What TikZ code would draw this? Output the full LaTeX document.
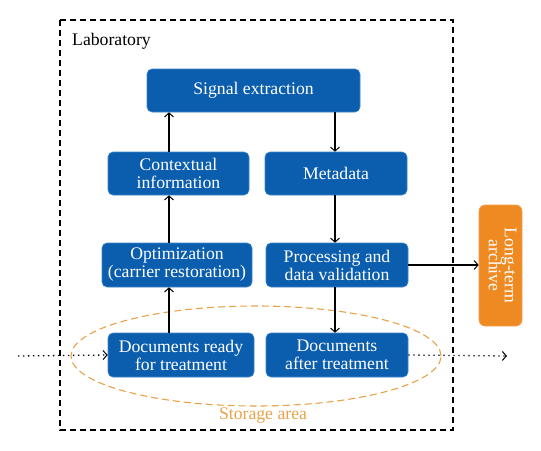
\documentclass[tikz,border=0pt]{standalone}
\usepackage{fontspec}
\setmainfont{Liberation Serif}
\usetikzlibrary{arrows.meta,shapes.geometric}
\definecolor{boxblue}{HTML}{0B5DAE}
\definecolor{boxedge}{HTML}{3A86C8}
\definecolor{archorange}{HTML}{EF8A22}
\definecolor{ellorange}{HTML}{E9A24A}
\begin{document}
\begin{tikzpicture}[x=1pt,y=-1pt,
  txt/.style={font=\fontsize{17.7}{18}\selectfont},
  bluebox/.style={draw=boxedge,line width=0.6pt,fill=boxblue,rounded corners=5pt,text=white,
    inner sep=0pt,align=center,txt},
  arr/.style={line width=1.1pt,-{Straight Barb[length=4pt,width=9pt,line width=1pt]}},
  dotarr/.style={line width=1.3pt,dash pattern=on 1.3pt off 3.7pt,-{Straight Barb[length=4pt,width=9pt,line width=1pt]}}]
\useasboundingbox (0,0) rectangle (541,450);
\fill[white] (0,0) rectangle (541,450);
% laboratory frame
\draw[line width=1.1pt,dash pattern=on 6pt off 4pt] (60,20) rectangle (453,430);
\node[anchor=west,txt,inner sep=0pt] (lab) at (72,41) {Laboratory};
% storage ellipse
\node[draw=ellorange,line width=1.1pt,dash pattern=on 7pt off 4pt,ellipse,minimum width=370pt,minimum height=100pt,inner sep=0pt] (ell) at (256,356) {};
\node[text=ellorange,txt,inner sep=0pt] (stor) at (263,416) {Storage area};
% boxes
\node[bluebox,minimum width=213pt,minimum height=43pt] (sig) at (253.5,90.5) {Signal extraction};
\node[bluebox,minimum width=141pt,minimum height=43pt] (ctx) at (178.5,173.5) {Contextual\\information};
\node[bluebox,minimum width=142pt,minimum height=43pt] (meta) at (336,173.5) {Metadata};
\node[bluebox,minimum width=150pt,minimum height=44pt] (opt) at (177,265) {Optimization\\(carrier restoration)};
\node[bluebox,minimum width=142pt,minimum height=44pt] (proc) at (337,265) {Processing and\\data validation};
\node[bluebox,minimum width=146pt,minimum height=44pt] (ready) at (181,355) {Documents ready\\for treatment};
\node[bluebox,minimum width=142pt,minimum height=44pt] (after) at (337,355) {Documents\\after treatment};
\node[draw=archorange!80!white,line width=0.6pt,fill=archorange,rounded corners=6pt,text=white,
  minimum width=43pt,minimum height=121pt,inner sep=0pt,txt] (arch) at (500.5,265.5)
  {\rotatebox{-90}{\fontsize{17.7}{18}\selectfont\begin{tabular}{@{}c@{}}Long-term\\[-2pt]archive\end{tabular}}};
% helper coordinates
\coordinate (xl) at (169,0);
\coordinate (xr) at (335,0);
\coordinate (din) at (18,356);
\coordinate (dout) at (507,356);
% arrows
\draw[arr] (ready.north -| xl) -- (opt.south -| xl);
\draw[arr] (opt.north -| xl) -- (ctx.south -| xl);
\draw[arr] (ctx.north -| xl) -- (sig.south -| xl);
\draw[arr] (sig.south -| xr) -- (meta.north -| xr);
\draw[arr] (meta.south -| xr) -- (proc.north -| xr);
\draw[arr] (proc.south -| xr) -- (after.north -| xr);
\draw[arr] (proc.east) -- (proc.east -| arch.west);
\draw[dotarr] (din) -- (ready.west);
\draw[dotarr] (after.east) -- (dout);
\end{tikzpicture}
\end{document}
